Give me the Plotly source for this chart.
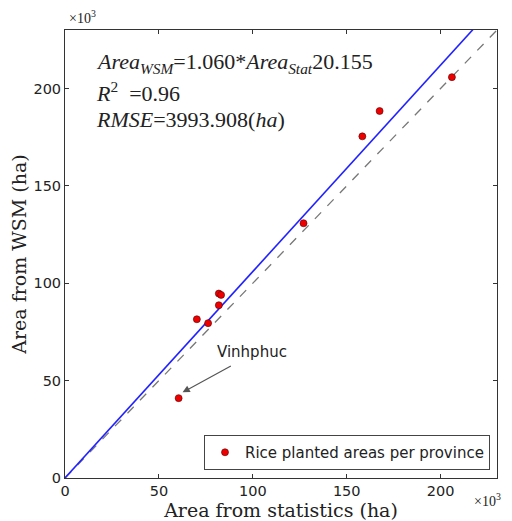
import plotly.graph_objects as go

# data (thousand ha)
stat_area = [60.5, 70.2, 76.2, 81.9, 83.1, 81.9, 127.0, 158.3, 167.5, 206.0]
wsm_area = [41.0, 81.5, 79.5, 94.7, 94.0, 88.7, 130.8, 175.4, 188.4, 205.8]
fit_slope = 1.060
fit_intercept = 0.020155
line_x = [0, 230]
x_ticks = [0, 50, 100, 150, 200]
y_ticks = [0, 50, 100, 150, 200]

fig = go.Figure()
fig.add_trace(go.Scatter(x=line_x, y=line_x, mode="lines",
                         line=dict(color="#777777", width=1.3, dash="dash"),
                         showlegend=False, hoverinfo="skip"))
fig.add_trace(go.Scatter(x=line_x, y=[fit_slope * v + fit_intercept for v in line_x], mode="lines",
                         line=dict(color="#2222ff", width=1.6),
                         showlegend=False, hoverinfo="skip"))
fig.add_trace(go.Scatter(x=stat_area, y=wsm_area, mode="markers",
                         marker=dict(color="#ee0000", size=7, line=dict(color="#550000", width=0.6)),
                         name="Rice planted areas per province"))

axis_common = dict(range=[0, 230], showgrid=False, zeroline=False, showline=True,
                   linecolor="#333333", linewidth=1, mirror="ticks", ticks="inside",
                   ticklen=4, tickcolor="#333333", automargin=False,
                   tickfont=dict(family="DejaVu Sans", size=14.5, color="#222222"))
fig.update_xaxes(**axis_common, tickvals=x_ticks,
                 title=dict(text="Area from statistics (ha)", standoff=1,
                            font=dict(family="DejaVu Serif", size=19, color="#222222")))
fig.update_yaxes(**axis_common, tickvals=y_ticks,
                 title=dict(text="Area from WSM (ha)", standoff=6,
                            font=dict(family="DejaVu Serif", size=19, color="#222222")))

serif = dict(family="Liberation Serif", size=22, color="#222222")
eq_lines = [
    "<i>Area</i><sub><i>WSM</i></sub>=1.060*<i>Area</i><sub><i>Stat</i></sub>20.155",
    "<i>R</i><sup>2</sup>  =0.96",
    "<i>RMSE</i>=3993.908(<i>ha</i>)",
]
eq_y = [63, 92, 120]
annotations = []
for t, yy in zip(eq_lines, eq_y):
    annotations.append(dict(text=t, xref="paper", yref="paper",
                            x=(94 - 65) / 432, y=(478 - yy) / 448,
                            xanchor="left", yanchor="middle", showarrow=False, font=serif))
annotations.append(dict(text="×10<sup>3</sup>", xref="paper", yref="paper",
                        x=(67 - 65) / 432, y=(478 - 17) / 448, xanchor="left", yanchor="middle",
                        showarrow=False, font=dict(family="Liberation Serif", size=14, color="#222222")))
annotations.append(dict(text="×10<sup>3</sup>", xref="paper", yref="paper",
                        x=(503 - 65) / 432, y=(478 - 500) / 448, xanchor="right", yanchor="middle",
                        showarrow=False, font=dict(family="Liberation Serif", size=14, color="#222222")))
annotations.append(dict(text="Vinhphuc", x=99.5, y=64.6, xref="x", yref="y", showarrow=False,
                        font=dict(family="DejaVu Sans", size=15, color="#222222")))
annotations.append(dict(text="", x=62.6, y=44.0, ax=89.1, ay=57.9, xref="x", yref="y",
                        axref="x", ayref="y", showarrow=True, arrowhead=2, arrowsize=1.2,
                        arrowwidth=1.2, arrowcolor="#555555"))

# page body has an 8px margin; compensate so the plot area lands where the reference has it
fig.update_layout(
    width=504, height=513,
    margin=dict(l=57, r=15, t=22, b=43),
    plot_bgcolor="white", paper_bgcolor="white",
    annotations=annotations,
    legend=dict(x=(490 - 65) / 432, y=(478 - 470) / 448, xanchor="right", yanchor="bottom",
                bordercolor="#444444", borderwidth=1, bgcolor="white",
                font=dict(family="DejaVu Sans", size=15, color="#222222")),
)
fig.write_html("out.html")
